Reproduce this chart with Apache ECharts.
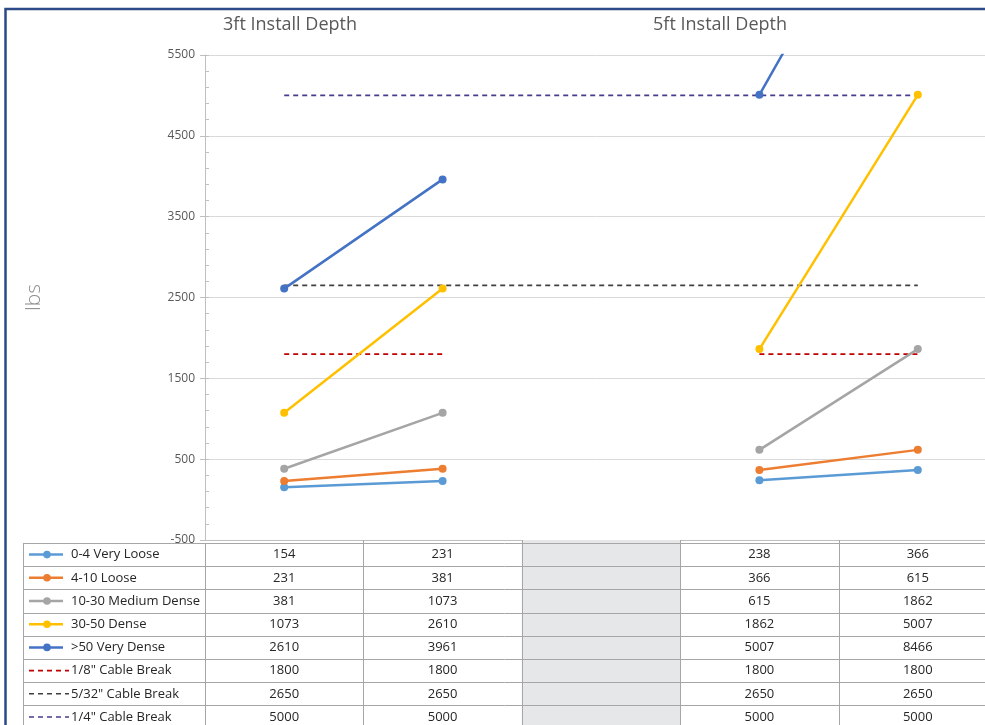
<!DOCTYPE html>
<html>
<head>
<meta charset="utf-8">
<script src="https://cdn.jsdelivr.net/npm/echarts@6/dist/echarts.min.js"></script>
<style>
html,body{margin:0;padding:0;background:#fff;}
#c{width:985px;height:725px;}
</style>
</head>
<body>
<div id="c"></div>
<script>
// ---- data ----
const categories = ['3ft A', '3ft B', '', '5ft A', '5ft B'];
const groupTitles = ['3ft Install Depth', '5ft Install Depth'];
const seriesNames = ['0-4 Very Loose', '4-10 Loose', '10-30 Medium Dense', '30-50 Dense', '>50 Very Dense',
  '1/8" Cable Break', '5/32" Cable Break', '1/4" Cable Break'];
const veryLoose   = [154, 231, null, 238, 366];
const loose       = [231, 381, null, 366, 615];
const mediumDense = [381, 1073, null, 615, 1862];
const dense       = [1073, 2610, null, 1862, 5007];
const veryDense   = [2610, 3961, null, 5007, 8466];
const cable18     = [1800, 1800, null, 1800, 1800];
const cable532    = [2650, 2650, null, 2650, 2650];
const cable14     = [5000, 5000, null, 5000, 5000];
const yTicks = { min: -500, max: 5500, interval: 1000, minorInterval: 200 };

const allData = [veryLoose, loose, mediumDense, dense, veryDense, cable18, cable532, cable14];
const colors = ['#5B9BD5', '#ED7D31', '#A5A5A5', '#FFC000', '#4472C4', '#C00000', '#404040', '#4A3A8C'];
const dashed = [false, false, false, false, false, true, true, true];
const connect = [false, false, false, false, false, false, true, true];

const FONT = '"Open Sans", "Noto Sans", sans-serif';
const chart = echarts.init(document.getElementById('c'), null, { renderer: 'canvas' });

const series = allData.map((d, i) => ({
  name: seriesNames[i],
  type: 'line',
  data: d,
  yAxisIndex: 0,
  connectNulls: connect[i],
  symbol: dashed[i] ? 'none' : 'circle',
  symbolSize: 8,
  showSymbol: !dashed[i],
  clip: true,
  animation: false,
  z: dashed[i] ? 2 : 3,
  itemStyle: { color: colors[i] },
  lineStyle: dashed[i]
    ? { color: colors[i], width: 1.6, type: [5, 4] }
    : { color: colors[i], width: 2.5 },
  emphasis: { disabled: true }
}));

chart.setOption({
  animation: false,
  backgroundColor: '#fff',
  grid: { left: 205, top: 55, width: 792, bottom: 185, containLabel: false, outerBoundsMode: 'none' },
  xAxis: {
    type: 'category',
    data: categories,
    boundaryGap: true,
    axisLine: { show: true, onZero: false, lineStyle: { color: '#BFBFBF', width: 1 } },
    axisTick: { show: false },
    axisLabel: { show: false },
    splitLine: { show: false }
  },
  yAxis: [{
    type: 'value',
    min: yTicks.min,
    max: yTicks.max,
    interval: yTicks.interval,
    name: 'lbs',
    nameLocation: 'middle',
    nameGap: 160,
    nameTextStyle: { color: '#8C8C8C', fontSize: 21, fontFamily: FONT, fontWeight: 300 },
    axisLine: { show: true, lineStyle: { color: '#BFBFBF' } },
    axisTick: { show: true, length: 5, lineStyle: { color: '#BFBFBF' } },
    axisLabel: { color: '#595959', fontSize: 12, fontFamily: FONT, margin: 10, formatter: v => String(v) },
    splitLine: { show: true, lineStyle: { color: '#D9D9D9', width: 1 } }
  }, {
    type: 'value',
    position: 'left',
    offset: 0,
    min: yTicks.min,
    max: yTicks.max,
    interval: yTicks.minorInterval,
    axisLine: { show: false },
    axisTick: { show: true, inside: true, length: 4, lineStyle: { color: '#BFBFBF' } },
    axisLabel: { show: false },
    splitLine: { show: false }
  }],
  series: series
});

function buildGraphics() {
  const g = [];
  const cx = categories.map((c, i) => chart.convertToPixel({ xAxisIndex: 0 }, i));
  const colW = cx[1] - cx[0];
  const yBottom = chart.convertToPixel({ yAxisIndex: 0 }, yTicks.min);
  const tableTop = yBottom + 3;
  const rowH = 23.2;
  const tableLeft = 23;
  const firstColRight = cx[0] - colW / 2;
  const tableRight = cx[cx.length - 1] + colW / 2;
  const nRows = seriesNames.length;
  const tableBottom = tableTop + rowH * nRows;
  const lineColor = '#A6A6A6';

  // gap column shading
  categories.forEach((c, i) => {
    if (allData.every(d => d[i] == null)) {
      g.push({ type: 'rect', shape: { x: cx[i] - colW / 2, y: yBottom, width: colW, height: tableBottom - yBottom + 10 },
        style: { fill: '#E6E7E9' }, silent: true, z: 1 });
    }
  });
  // horizontal lines
  for (let r = 0; r <= nRows; r++) {
    const y = Math.round(tableTop + r * rowH) + 0.5;
    g.push({ type: 'line', shape: { x1: tableLeft, y1: y, x2: tableRight, y2: y },
      style: { stroke: lineColor, lineWidth: 1 }, silent: true, z: 2 });
  }
  // vertical lines
  g.push({ type: 'line', shape: { x1: tableLeft + 0.5, y1: tableTop, x2: tableLeft + 0.5, y2: tableBottom },
    style: { stroke: lineColor, lineWidth: 1 }, silent: true, z: 2 });
  for (let i = 0; i <= categories.length; i++) {
    const x = Math.round(firstColRight + i * colW) + 0.5;
    g.push({ type: 'line', shape: { x1: x, y1: i === 0 ? tableTop : yBottom, x2: x, y2: tableBottom },
      style: { stroke: lineColor, lineWidth: 1 }, silent: true, z: 2 });
  }
  // rows
  seriesNames.forEach((name, r) => {
    const yc = tableTop + r * rowH + rowH / 2;
    if (dashed[r]) {
      g.push({ type: 'line', shape: { x1: 29, y1: yc, x2: 69, y2: yc },
        style: { stroke: colors[r], lineWidth: 1.6, lineDash: [5, 4] }, silent: true, z: 3 });
    } else {
      g.push({ type: 'line', shape: { x1: 29, y1: yc, x2: 63, y2: yc },
        style: { stroke: colors[r], lineWidth: 2.5 }, silent: true, z: 3 });
      g.push({ type: 'circle', shape: { cx: 47, cy: yc, r: 3.8 },
        style: { fill: colors[r] }, silent: true, z: 3 });
    }
    g.push({ type: 'text', x: 71, y: yc, silent: true, z: 3,
      style: { text: name, fill: '#262626', font: '13px ' + FONT, textVerticalAlign: 'middle', textAlign: 'left' } });
    allData[r].forEach((v, i) => {
      if (v == null) return;
      g.push({ type: 'text', x: cx[i], y: yc, silent: true, z: 3,
        style: { text: String(v), fill: '#262626', font: '13px ' + FONT, textVerticalAlign: 'middle', textAlign: 'center' } });
    });
  });
  // group titles
  g.push({ type: 'text', x: 290, y: 25, silent: true, z: 3,
    style: { text: groupTitles[0], fill: '#595959', font: '18px ' + FONT, textAlign: 'center', textVerticalAlign: 'middle' } });
  g.push({ type: 'text', x: 720, y: 25, silent: true, z: 3,
    style: { text: groupTitles[1], fill: '#595959', font: '18px ' + FONT, textAlign: 'center', textVerticalAlign: 'middle' } });
  // outer border
  g.push({ type: 'rect', shape: { x: 5.5, y: 9, width: 1000, height: 760 },
    style: { fill: 'none', stroke: '#2B4A87', lineWidth: 2.5 }, silent: true, z: 10 });
  chart.setOption({ graphic: g });
}
buildGraphics();
</script>
</body>
</html>
